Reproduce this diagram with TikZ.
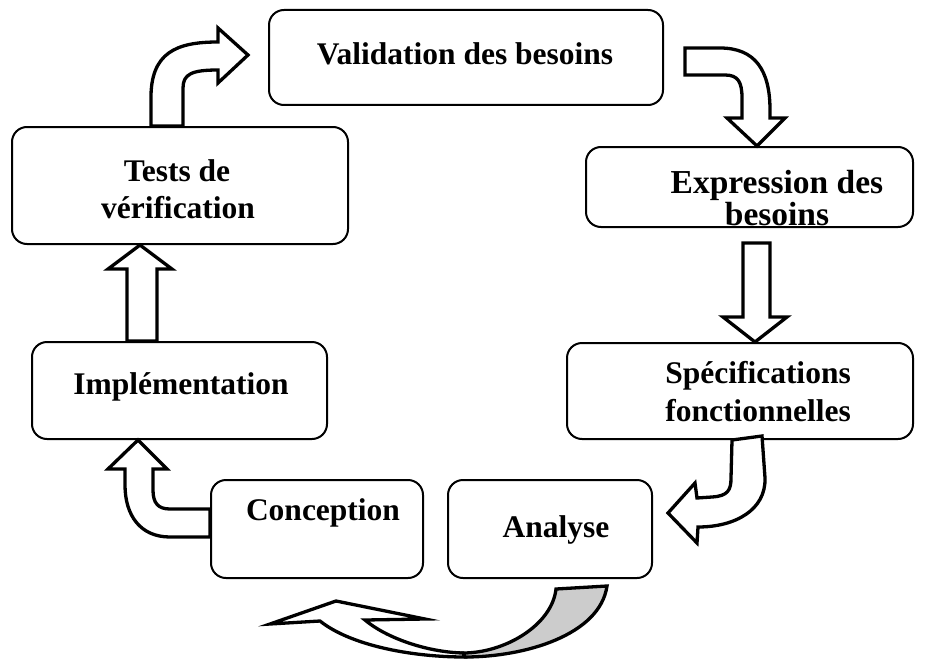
\documentclass[tikz,border=0pt]{standalone}
\usepackage{fontspec}
\setmainfont{Liberation Serif}
\begin{document}
\begin{tikzpicture}[x=1pt,y=-1pt,
  box/.style={draw, line width=2pt, rounded corners=15pt, rectangle, inner sep=0pt},
  lbl/.style={font=\fontsize{31.5}{36}\selectfont\bfseries, anchor=base, inner sep=0pt},
  biglbl/.style={lbl, font=\fontsize{33.5}{38}\selectfont\bfseries},
  blockarrow/.style={draw, fill=white, line width=3.3pt, line join=miter}]
\useasboundingbox (0,0) rectangle (933,658);

% process boxes
\node[box, minimum width=394pt, minimum height=95pt] (val) at (466,57.5) {};
\node[box, minimum width=327pt, minimum height=80pt] (expr) at (749.5,187) {};
\node[box, minimum width=336pt, minimum height=117pt] (tests) at (180,185.5) {};
\node[box, minimum width=346pt, minimum height=96pt] (spec) at (740,391) {};
\node[box, minimum width=295pt, minimum height=97pt] (impl) at (179.5,390.5) {};
\node[box, minimum width=212pt, minimum height=98pt] (conc) at (317,529) {};
\node[box, minimum width=204pt, minimum height=98pt] (ana) at (550,529) {};

% labels
\node[lbl] (valtxt) at (465,65) {Validation des besoins};
\node[biglbl] (exptxta) at (777,193) {Expression des};
\node[biglbl] (exptxtb) at (777,225) {besoins};
\node[lbl] (tsttxta) at (177,181) {Tests de};
\node[lbl] (tsttxtb) at (178,218) {vérification};
\node[lbl] (spctxta) at (758,383) {Spécifications};
\node[lbl] (spctxtb) at (758,421) {fonctionnelles};
\node[lbl] (imptxt) at (181,394) {Implémentation};
\node[lbl] (contxt) at (323,520) {Conception};
\node[lbl] (anatxt) at (556,537) {Analyse};

% straight block arrows
\draw[blockarrow] (127,0 |- impl.north) -- (127,269) -- (108,269) -- (140,0 |- tests.south)
  -- (172,269) -- (157,269) -- (157,0 |- impl.north) -- cycle;
\draw[blockarrow] (743,243) -- (743,317) -- (723,317) -- (755,0 |- spec.north)
  -- (787,317) -- (770,317) -- (770,243) -- cycle;

% bent block arrows
\draw[blockarrow] (151,0 |- tests.north) -- (151,100) .. controls (150,52) and (177,42) .. (218,42)
  -- (218,28) -- (248,55) -- (218,83) -- (218,70) .. controls (192,70) and (183,74) .. (183,88)
  -- (183,0 |- tests.north) -- cycle;
\draw[blockarrow] (685,48) -- (720,48) .. controls (755,48) and (770,70) .. (770,110)
  -- (770,118) -- (785,118) -- (757,0 |- expr.north) -- (727,118) -- (742,118)
  -- (742,98) .. controls (742,82) and (738,75) .. (725,75) -- (685,75) -- cycle;
\draw[blockarrow] (732,0 |- spec.south) -- (762,436) -- (765,478) .. controls (766,510) and (735,527) .. (698,527)
  -- (697,543) -- (668,513) -- (695,483) -- (697,498) -- (712,497)
  .. controls (728,496) and (731,490) .. (731,478) -- cycle;
\draw[blockarrow] (conc.west |- 0,537) -- (170,537) .. controls (140,537) and (125,515) .. (125,485)
  -- (125,469) -- (108,469) -- (138,0 |- impl.south) -- (167,469) -- (153,469)
  -- (153,490) .. controls (153,503) and (158,509) .. (170,509) -- (conc.west |- 0,509) -- cycle;

% curved arrow below Analyse and Conception
\draw[line width=3.3pt, fill=gray!40] (463,653) .. controls (505,653) and (552,625) .. (556,589)
  -- (607,586) .. controls (600,635) and (525,657) .. (465,657) -- cycle;
\draw[blockarrow] (320,621) .. controls (350,645) and (410,657) .. (465,657) -- (463,653)
  .. controls (425,652) and (385,637) .. (365,620) -- (425,619) -- (336,601) -- (270,624) -- cycle;
\end{tikzpicture}
\end{document}
